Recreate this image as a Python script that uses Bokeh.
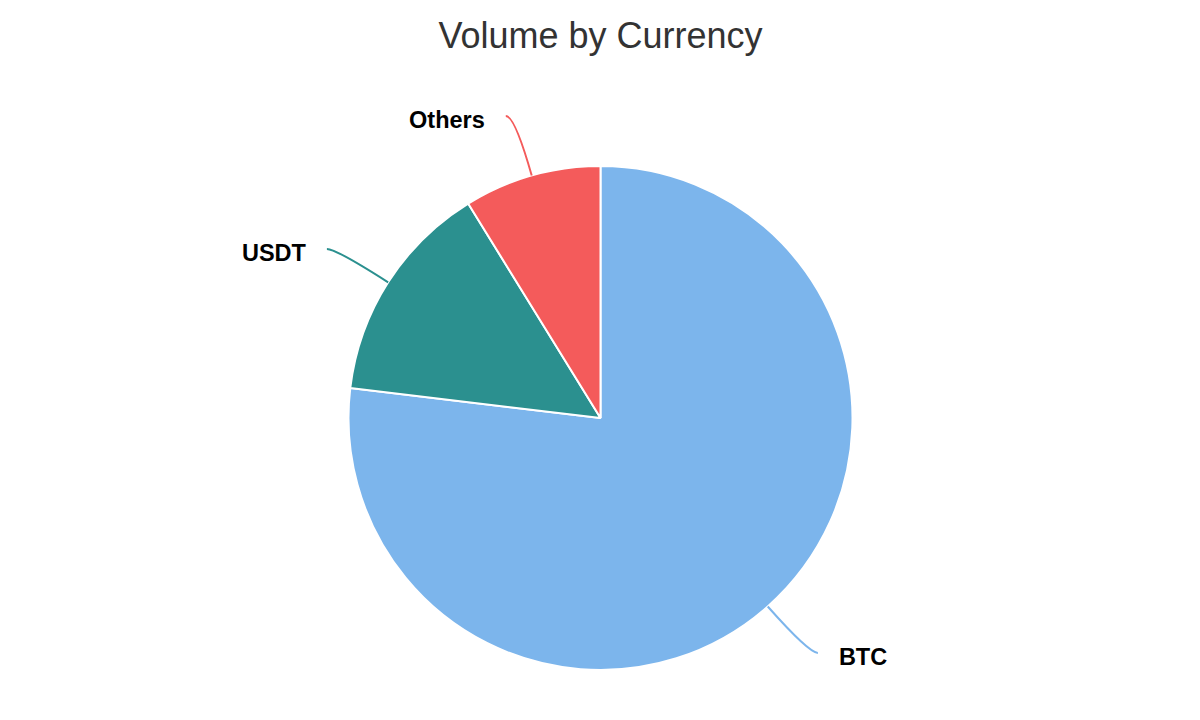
import math
from bokeh.plotting import figure
from bokeh.models import Range1d, ColumnDataSource
from bokeh.core.properties import value
from bokeh.embed import file_html
from bokeh.resources import INLINE

# ---- data ----
categories = ["BTC", "USDT", "Others"]
shares = [76.9, 14.3, 8.8]
colors = ["#7cb5ec", "#2b908f", "#f45b5b"]
title_text = "Volume by Currency"

# ---- layout (pixel-like data space, y up) ----
W, H = 1184, 704
cx, cy = 600.0, 720 - 417.5
R = 252.0
LABEL_DIST = 62.0
HOOK = 9.0
TEXT_GAP = 21.0

p = figure(width=W, height=H, output_backend="svg", toolbar_location=None,
           x_range=Range1d(0, W), y_range=Range1d(720 - H, 720),
           min_border=0)
p.axis.visible = False
p.grid.visible = False
p.outline_line_color = None
p.background_fill_color = "white"
p.border_fill_color = "white"

total = sum(shares)
starts, ends, mids = [], [], []
acc = 0.0
for s in shares:
    c0 = acc / total
    acc += s
    c1 = acc / total
    starts.append(math.pi / 2 - 2 * math.pi * c0)
    ends.append(math.pi / 2 - 2 * math.pi * c1)
    mids.append(2 * math.pi * (c0 + c1) / 2)  # clockwise from top

src = ColumnDataSource(dict(x=[cx] * len(shares), y=[cy] * len(shares),
                            start=starts, end=ends, color=colors))
p.wedge(x="x", y="y", radius=R, start_angle="start", end_angle="end",
        direction="clock", fill_color="color", line_color="white",
        line_width=2, source=src)

# connectors and labels
ex, ey, ccx, ccy, lx, ly, tx, ty, aligns = [], [], [], [], [], [], [], [], []
for th in mids:
    sx, cyv = math.sin(th), math.cos(th)
    sign = 1 if sx >= 0 else -1
    e_x, e_y = cx + R * sx, cy + R * cyv
    c_x = cx + (R + LABEL_DIST) * sx
    c_y = cy + (R + LABEL_DIST) * cyv
    l_x = c_x + sign * HOOK
    ex.append(e_x); ey.append(e_y)
    ccx.append(c_x); ccy.append(c_y)
    lx.append(l_x); ly.append(c_y)
    tx.append(l_x + sign * TEXT_GAP)
    ty.append(c_y - 4.5)
    aligns.append("left" if sign > 0 else "right")

csrc = ColumnDataSource(dict(x0=lx, y0=ly, x1=ex, y1=ey, cx=ccx, cy=ccy, color=colors))
p.quadratic(x0="x0", y0="y0", x1="x1", y1="y1", cx="cx", cy="cy",
            line_color="color", line_width=2, source=csrc)

tsrc = ColumnDataSource(dict(x=tx, y=ty, text=categories, align=aligns))
p.text(x="x", y="y", text="text", text_align="align", text_baseline="alphabetic",
       text_font=value("Liberation Sans"), text_font_style="bold",
       text_font_size="23.5px", text_color="#000000", source=tsrc)

# title
p.text(x=[cx], y=[720 - 35.0], text=[title_text], text_align="center",
       text_baseline="alphabetic", text_font=value("Liberation Sans"),
       text_font_size="36px", text_color="#333333")

open("out.html", "w").write(file_html(p, INLINE))
